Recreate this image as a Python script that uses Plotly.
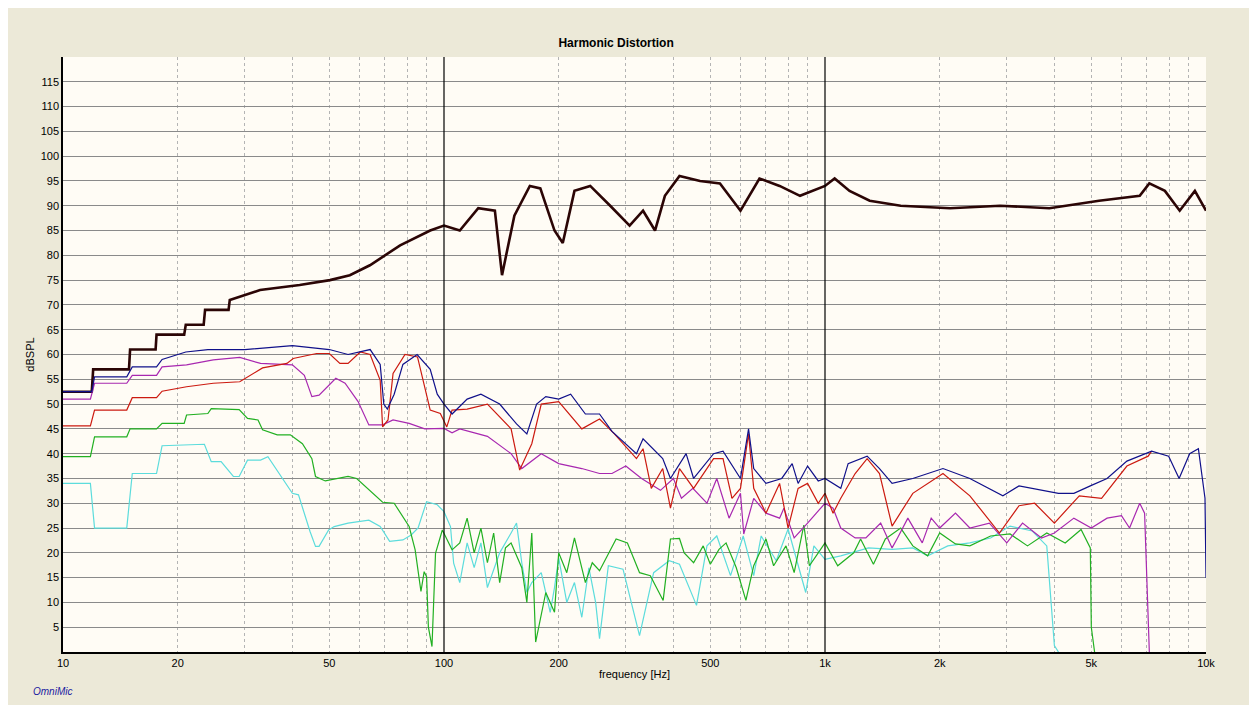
import plotly.graph_objects as go

# fundamental
fund_f = [10, 11.9, 12, 14.9, 15, 17.5, 17.6, 20.8, 21, 23.4, 23.6, 27.2, 27.4, 32.9, 41.8, 50.2, 56.6, 63.9,
          76.7, 92, 100, 110, 123, 136, 142, 153, 168, 179, 195, 205, 220, 242, 273, 307, 333, 358, 380, 415,
          470, 530, 600, 673, 760, 860, 1000, 1060, 1160, 1310, 1580, 2130, 2880, 3880, 5240, 6700, 7100,
          7800, 8530, 9350, 10000]
fund_db = [52.5, 52.5, 57, 57, 61, 61, 64, 64, 66, 66, 69, 69, 71, 73, 74, 75, 76, 78,
           82, 85, 86, 85, 89.5, 89, 76, 88, 94, 93.5, 85, 82.5, 93, 94, 90, 86, 89, 85, 92, 96,
           95, 94.5, 89, 95.5, 94, 92, 94, 95.5, 93, 91, 90, 89.5, 90, 89.5, 91, 92, 94.5,
           93, 89, 93, 89]

# 2nd harmonic (blue)
blue_f = [10, 11.9, 12.1, 14.7, 15.2, 17.6, 18.2, 21, 24, 30, 40, 50, 56, 64, 68, 69.5, 71, 74, 78, 85, 92, 96,
          100, 105, 115, 125, 140, 155, 165, 175, 185, 200, 215, 235, 256, 276, 320, 333, 375, 393, 432, 452,
          510, 540, 600, 630, 650, 700, 770, 820, 850, 900, 960, 1000, 1100, 1150, 1290, 1390, 1500, 1700,
          2040, 2400, 2930, 3230, 4100, 4500, 4970, 5500, 6200, 7200, 7980, 8500, 9060, 9550, 9940, 10000]
blue_db = [52.5, 52.5, 55.5, 55.5, 57.5, 57.5, 59, 60.5, 61, 61, 61.8, 61, 60, 61, 58, 50, 49, 52, 58, 60, 57, 52,
           50, 48, 51, 52, 50, 46, 44, 50, 51.5, 51, 52, 48, 48, 44.5, 40, 43, 39, 35, 40, 35,
           40, 40.5, 35, 45, 37, 34, 35, 38, 34, 37.5, 34.5, 35, 33, 38, 39.5, 37, 34, 35,
           37, 35, 31.5, 33.5, 32, 32, 33.5, 35, 38.5, 40.5, 39.5, 35, 40, 41, 31, 15]

# 3rd harmonic (red)
red_f = [10, 11.8, 12.1, 14.7, 15.2, 17.6, 18.2, 21.1, 24.8, 29.1, 33.4, 38.7, 40.2, 46.3, 50, 53.3, 56, 60.3,
         64, 68, 69, 71.3, 73.5, 79, 85.2, 92, 97.8, 101.7, 105, 115, 130, 150, 158, 170, 180, 200, 230, 256,
         280, 320, 333, 350, 375, 393, 415, 452, 510, 540, 570, 600, 630, 650, 700, 760, 800, 850, 900, 960,
         1000, 1050, 1100, 1200, 1290, 1390, 1500, 1700, 2040, 2400, 2870, 3230, 3550, 4000, 4650, 5320,
         6200, 7050, 7200]
red_db = [45.6, 45.6, 48.8, 48.8, 51.3, 51.3, 52.6, 53.5, 54.2, 54.5, 57.3, 58.2, 59.2, 60.2, 60.2, 58.2, 58.2, 60.5,
          60, 54.8, 45.4, 46.8, 56.2, 60, 59.5, 48.8, 48.1, 45.4, 48.8, 49, 50, 45, 36.7, 42, 50, 50.5, 45, 47,
          44, 39, 41, 33, 37, 29, 37, 33, 39, 39, 31, 33, 44, 33, 28, 34, 25, 33, 34, 30,
          32, 28, 31, 36, 39, 36, 25.4, 32, 36, 31.5, 24, 29.5, 30, 26, 31.5, 31,
          37.5, 39.5, 40.5]

# 4th harmonic (magenta)
mag_f = [10, 11.8, 12.1, 14.7, 15.2, 17.6, 18.2, 21.1, 24.8, 29.1, 33, 40, 43, 45, 47, 50, 52, 55, 59.5, 63.5,
         69, 73.5, 81, 89, 100, 105, 110, 130, 150, 160, 180, 200, 230, 256, 276, 300, 330, 370, 400, 420,
         450, 490, 520, 560, 600, 612, 650, 700, 760, 780, 830, 900, 950, 1000, 1050, 1100, 1200, 1280, 1400,
         1500, 1550, 1650, 1800, 1900, 2000, 2200, 2400, 2700, 3000, 3300, 3700, 4000, 4500, 5000, 5500,
         6000, 6300, 6700, 6900, 7100]
mag_db = [51, 51, 54.2, 54.2, 55.8, 55.8, 57.5, 57.9, 58.9, 59.4, 58.2, 57.9, 55.8, 51.5, 51.8, 53.8, 55.2, 54.2, 50.5, 45.8,
          45.8, 46.8, 46.1, 45, 45.1, 44.2, 45, 43.5, 40, 37, 40, 38, 37, 36, 36, 37.5, 35, 32.6, 35, 31,
          33, 30, 35, 27, 32, 23.8, 31, 28, 27, 29, 23, 26, 28, 30, 29, 25, 23, 23, 26,
          21, 23, 27, 22, 27, 25, 28, 25, 26, 22, 26, 23, 24, 27, 25, 27,
          27.5, 25, 30, 28, 0]

# 5th harmonic (green)
grn_f = [10, 11.8, 12.1, 14.7, 15, 17.6, 18.2, 20.8, 21.1, 24, 24.5, 29, 30.5, 32.5, 33.4, 36.5, 39.5, 42.5, 45, 46,
         48.8, 56, 59, 65, 69, 74, 81, 84, 87, 88.7, 90, 91, 93, 95, 99, 105, 110, 115, 120, 125, 130, 135,
         140, 145, 150, 160, 165, 170, 174, 185, 195, 200, 210, 220, 235, 245, 256, 283, 303, 326, 348, 376,
         393, 415, 427, 452, 479, 500, 527, 550, 585, 620, 650, 700, 733, 790, 830, 880, 910, 960, 1000,
         1080, 1190, 1240, 1340, 1440, 1580, 1700, 1860, 2000, 2200, 2400, 2720, 3060, 3400, 3820, 4270,
         4700, 4970, 5000, 5100]
grn_db = [39.4, 39.4, 43.4, 43.4, 45, 45, 46.1, 46.1, 47.8, 48.1, 49.1, 48.9, 47.1, 46.8, 44.8, 43.8, 43.8, 42, 39, 35.4,
          34.5, 35.4, 35, 32, 30.2, 30, 25.3, 20.6, 12.2, 16.2, 15.2, 5, 1.1, 19.9, 24.6, 20.6, 22, 27, 20, 25, 18, 24,
          14, 21, 22, 17, 10, 24, 2, 12, 8, 20, 16, 23, 14, 18, 16.4, 22.8, 22, 16, 15.4, 10.4,
          22.8, 22.9, 20, 18, 21.4, 17.7, 20.7, 22, 17, 10.4, 17.4, 22.8, 17.4, 21.4, 16, 25.6, 17.4, 20, 22,
          17.4, 20, 22.8, 17.7, 22.8, 25, 21.4, 19.4, 24, 21.8, 21.4, 23.4, 23.8, 21.4, 24, 22,
          24.7, 21, 5, 0]

# 6th harmonic (cyan)
cyn_f = [10, 11.8, 12.1, 14.7, 15.2, 17.6, 18.2, 23.5, 24.5, 26, 28, 29, 30.5, 33, 34.5, 37, 40, 41.5, 44.5, 46,
         47, 49.8, 51.5, 56, 63.5, 68, 72, 78, 82, 85.5, 90, 96, 100, 104, 106, 110, 115, 120, 125, 130, 140,
         150, 155, 160, 165, 170, 180, 190, 195, 200, 210, 220, 230, 240, 250, 256, 270, 295, 326, 355, 390,
         415, 460, 490, 520, 565, 610, 650, 680, 745, 800, 890, 935, 1000, 1100, 1300, 1500, 1700, 1860,
         2100, 2400, 2720, 3060, 3500, 3820, 4000, 4100]
cyn_db = [34, 34, 25, 25, 36, 36, 41.6, 41.9, 38.4, 38.4, 35.4, 35.4, 38.7, 38.7, 39.4, 36, 32, 31.7, 24.3, 21.3,
          21.3, 24.6, 25.3, 26, 26.6, 25.3, 22.3, 22.6, 23.6, 25, 30.3, 29.7, 28.3, 25.3, 17.9, 14, 22, 17, 22, 13, 20,
          24, 26, 18, 12, 14, 16, 8, 13, 19, 10, 14, 7, 17, 10, 2.7, 17.4, 16.7, 3.3, 16, 18.4,
          17.7, 9.4, 21.4, 23.4, 15.4, 23.4, 15.4, 23.4, 18.4, 24.8, 12, 21.4, 18.7, 19.4, 21, 20.7, 21, 19.4,
          21.4, 22, 23, 25.4, 24.4, 21.4, 1.3, 0]

series = [
    ("Fundamental", fund_f, fund_db, "#2B0505", 2.6),
    ("H6", cyn_f, cyn_db, "#5CDCDC", 1.2),
    ("H5", grn_f, grn_db, "#22B022", 1.2),
    ("H4", mag_f, mag_db, "#A828B0", 1.2),
    ("H3", red_f, red_db, "#CC1A10", 1.2),
    ("H2", blue_f, blue_db, "#10108A", 1.2),
]

fig = go.Figure()
for name, xs, ys, col, w in series:
    fig.add_trace(go.Scatter(x=xs, y=ys, name=name, mode="lines",
                             line=dict(color=col, width=w), line_shape="linear"))

# decade lines
for xv in [100, 1000]:
    fig.add_shape(type="line", x0=xv, x1=xv, y0=0, y1=120, xref="x", yref="y",
                  line=dict(color="black", width=1.2))

fig.update_xaxes(
    type="log", range=[1, 4],
    tickvals=[10, 20, 50, 100, 200, 500, 1000, 2000, 5000, 10000],
    ticktext=["10", "20", "50", "100", "200", "500", "1k", "2k", "5k", "10k"],
    showgrid=False, showline=True, linecolor="black", linewidth=1.5, ticks="",
    minor=dict(showgrid=True, gridcolor="#B4B4B4", griddash="dot", gridwidth=1,
               tickvals=[20, 30, 40, 50, 60, 70, 80, 90, 200, 300, 400, 500, 600, 700, 800, 900,
                         2000, 3000, 4000, 5000, 6000, 7000, 8000, 9000]),
    title=dict(text="frequency [Hz]", standoff=2, font=dict(size=11)),
    tickfont=dict(size=11), zeroline=False,
)
fig.update_yaxes(
    range=[0, 120], tickvals=list(range(5, 120, 5)),
    showgrid=True, gridcolor="#8A8A8A", gridwidth=1, showline=True, linecolor="black", linewidth=1.5,
    title=dict(text="dBSPL", standoff=4, font=dict(size=11)), tickfont=dict(size=11), zeroline=False,
)
fig.update_layout(
    width=1241, height=697,
    paper_bgcolor="#ECE9D8", plot_bgcolor="#FFFCF5",
    margin=dict(l=55, r=43, t=49, b=53),
    showlegend=False,
    font=dict(family="Liberation Sans, Arial", color="black"),
    title=dict(text="<b>Harmonic Distortion</b>", x=0.49, xanchor="center", y=0.95, yanchor="middle",
               font=dict(size=12)),
    annotations=[dict(text="<i>OmniMic</i>", xref="paper", yref="paper", x=-0.028, y=-0.067,
                      xanchor="left", yanchor="middle", showarrow=False,
                      font=dict(size=10, color="#2020A0"))],
)
fig.write_html("out.html")
